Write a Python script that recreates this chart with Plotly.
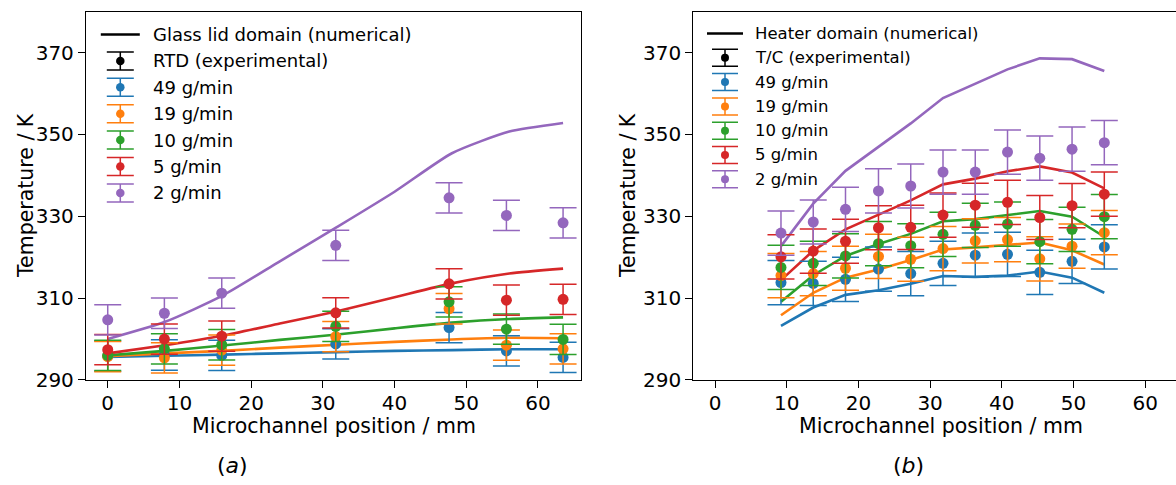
import plotly.graph_objects as go

# ---------------- data ----------------
series_names = ["49 g/min", "19 g/min", "10 g/min", "5 g/min", "2 g/min"]
series_colors = ["#1f77b4", "#ff7f0e", "#2ca02c", "#d62728", "#9467bd"]

# (a) Glass lid domain: numerical curves
lid_num_x = [0, 8, 16, 24, 32, 40, 48, 56, 63.5]
lid_num_49 = [295.6, 295.9, 296.2, 296.5, 296.8, 297.1, 297.3, 297.5, 297.5]
lid_num_19 = [295.8, 296.5, 297.1, 297.9, 298.6, 299.3, 299.9, 300.3, 300.2]
lid_num_10 = [296.0, 297.1, 298.4, 299.8, 301.1, 302.6, 304.0, 304.9, 305.3]
lid_num_5 = [296.5, 298.5, 300.8, 303.8, 306.8, 310.2, 313.6, 316.0, 317.2]
lid_num_2 = [300.0, 304.2, 310.6, 319.0, 327.4, 336.0, 345.4, 350.7, 352.8]

# (a) RTD experimental
rtd_x = [0, 7.9, 15.9, 31.8, 47.6, 55.6, 63.5]
rtd_49 = [295.8, 296.1, 296.0, 298.8, 302.8, 297.1, 295.5]
rtd_19 = [295.7, 295.4, 297.3, 300.6, 307.4, 298.5, 297.6]
rtd_10 = [296.0, 297.6, 298.6, 303.1, 309.1, 302.4, 299.9]
rtd_5 = [297.4, 300.0, 300.7, 306.4, 313.5, 309.5, 309.7]
rtd_2 = [304.7, 306.3, 311.2, 322.9, 334.5, 330.2, 328.4]
rtd_err = 3.7

# (b) Heater domain: numerical and T/C experimental share positions
tc_x = [9.2, 13.7, 18.2, 22.8, 27.3, 31.8, 36.3, 40.8, 45.3, 49.8, 54.3]
heat_num_49 = [303.2, 307.7, 310.8, 311.9, 313.5, 315.4, 315.2, 315.5, 316.5, 315.0, 311.3]
heat_num_19 = [305.8, 311.3, 315.0, 317.0, 319.3, 321.9, 322.4, 323.0, 323.6, 321.7, 318.2]
heat_num_10 = [309.1, 315.6, 320.3, 323.2, 325.7, 328.8, 329.3, 330.3, 331.3, 329.9, 325.0]
heat_num_5 = [314.4, 321.6, 326.8, 330.3, 333.9, 337.8, 339.2, 341.0, 342.2, 340.7, 336.8]
heat_num_2 = [322.7, 333.1, 341.1, 347.0, 352.7, 358.9, 362.4, 365.9, 368.6, 368.4, 365.5]

tc_49 = [313.8, 313.6, 314.6, 317.1, 316.0, 318.5, 320.5, 320.7, 316.3, 319.0, 322.5]
tc_19 = [315.5, 316.0, 317.3, 320.2, 319.5, 322.1, 324.0, 324.3, 319.6, 322.7, 326.0]
tc_10 = [317.5, 318.5, 320.3, 323.3, 322.8, 325.6, 327.8, 328.1, 323.8, 326.8, 329.9]
tc_5 = [320.1, 321.5, 323.9, 327.2, 327.3, 330.3, 332.7, 333.4, 329.7, 332.6, 335.4]
tc_2 = [325.9, 328.6, 331.7, 336.2, 337.4, 340.8, 340.8, 345.7, 344.2, 346.4, 348.0]
tc_err = 5.4

x_ticks = [0, 10, 20, 30, 40, 50, 60]
y_ticks = [290, 310, 330, 350, 370]

# ---------------- layout constants ----------------
W = 1176
SY = 0.976                 # vertical scale observed between page and photograph
H = round(485 / SY)
FONT = "DejaVu Sans"


def fx(p):
    return p / W


def fy(p):
    return 1 - (p / SY) / H


lid_num = [lid_num_49, lid_num_19, lid_num_10, lid_num_5, lid_num_2]
rtd = [rtd_49, rtd_19, rtd_10, rtd_5, rtd_2]
heat_num = [heat_num_49, heat_num_19, heat_num_10, heat_num_5, heat_num_2]
tc = [tc_49, tc_19, tc_10, tc_5, tc_2]

fig = go.Figure()

# numerical lines first
for vals, c in zip(lid_num, series_colors):
    fig.add_trace(go.Scatter(x=lid_num_x, y=vals, mode="lines", line=dict(color=c, width=2.6, shape="spline", smoothing=0.6),
                             showlegend=False, xaxis="x", yaxis="y", hoverinfo="skip"))
for vals, c in zip(heat_num, series_colors):
    fig.add_trace(go.Scatter(x=tc_x, y=vals, mode="lines", line=dict(color=c, width=2.6),
                             showlegend=False, xaxis="x2", yaxis="y2", hoverinfo="skip"))

# experimental points with error bars
for vals, c in zip(rtd, series_colors):
    fig.add_trace(go.Scatter(x=rtd_x, y=vals, mode="markers", marker=dict(color=c, size=11),
                             error_y=dict(type="constant", value=rtd_err, color=c, thickness=1.5, width=13.5),
                             showlegend=False, xaxis="x", yaxis="y"))
for vals, c in zip(tc, series_colors):
    fig.add_trace(go.Scatter(x=tc_x, y=vals, mode="markers", marker=dict(color=c, size=11),
                             error_y=dict(type="constant", value=tc_err, color=c, thickness=1.5, width=13.5),
                             showlegend=False, xaxis="x2", yaxis="y2"))

# ---------------- custom legends (pixel overlay axis) ----------------
annotations = []


def add_legend(x_handle, x_text, y0, dy, line_half, cap_half, err_half, msize, fsize, title_num, title_exp):
    fig.add_trace(go.Scatter(x=[x_handle - line_half, x_handle + line_half], y=[y0, y0], mode="lines",
                             line=dict(color="black", width=2.6), showlegend=False,
                             xaxis="x3", yaxis="y3", hoverinfo="skip", cliponaxis=False))
    labels = [title_exp] + series_names
    colors = ["black"] + series_colors
    for i, c in enumerate(colors):
        yy = y0 + dy * (i + 1)
        fig.add_trace(go.Scatter(x=[x_handle], y=[yy], mode="markers", marker=dict(color=c, size=msize),
                                 error_y=dict(type="constant", value=err_half, color=c, thickness=1.5, width=cap_half),
                                 showlegend=False, xaxis="x3", yaxis="y3", hoverinfo="skip", cliponaxis=False))
    for i, lab in enumerate([title_num] + labels):
        annotations.append(dict(x=fx(x_text), y=fy(y0 + dy * i), xref="paper", yref="paper", text=lab,
                                showarrow=False, xanchor="left", yanchor="middle", borderpad=0,
                                font=dict(family=FONT, size=fsize, color="black")))


add_legend(120.3, 152, 34.5, 26.4, 19.5, 13.5, 9.0, 8.5, 18,
           "Glass lid domain (numerical)", "RTD (experimental)")
add_legend(725, 754, 33.5, 24.3, 18.0, 13.0, 8.5, 8, 16.5,
           "Heater domain (numerical)", "T/C (experimental)")

# axis titles and panel labels
titles = [
    dict(x=fx(26), y=fy(196), text="Temperature / K", textangle=-90),
    dict(x=fx(628), y=fy(196), text="Temperature / K", textangle=-90),
    dict(x=fx(333.5), y=fy(426), text="Microchannel position / mm"),
    dict(x=fx(940.5), y=fy(426), text="Microchannel position / mm"),
]
for a in titles:
    a.update(xref="paper", yref="paper", showarrow=False, xanchor="center", yanchor="middle",
             font=dict(family=FONT, size=20.5, color="black"))
annotations += titles
annotations += [
    dict(x=fx(232), y=fy(466), text="(<i>a</i>)", xref="paper", yref="paper", showarrow=False,
         xanchor="center", yanchor="middle", font=dict(family=FONT, size=22, color="black")),
    dict(x=fx(908), y=fy(466), text="(<i>b</i>)", xref="paper", yref="paper", showarrow=False,
         xanchor="center", yanchor="middle", font=dict(family=FONT, size=22, color="black")),
]

ax_common = dict(showline=True, linecolor="black", linewidth=1.3, ticks="outside", ticklen=7,
                 tickwidth=1.3, tickcolor="black", showgrid=False, zeroline=False,
                 tickfont=dict(family=FONT, size=20, color="black"))
ydom = [fy(380), fy(11.7)]

fig.update_layout(
    width=W, height=H,
    margin=dict(l=0, r=0, t=0, b=0),
    paper_bgcolor="white", plot_bgcolor="rgba(0,0,0,0)",
    showlegend=False,
    annotations=annotations,
    xaxis=dict(domain=[fx(86), fx(581)], range=[-3.03, 66.0], anchor="y", tickvals=x_ticks, mirror=True,
               ticklabelstandoff=-2, **ax_common),
    yaxis=dict(domain=ydom, range=[290, 380], anchor="x", tickvals=y_ticks, mirror=True, **ax_common),
    xaxis2=dict(domain=[fx(693.3), 1.0], range=[-3.03, 64.3], anchor="y2", tickvals=x_ticks, mirror=True,
                ticklabelstandoff=-2, **ax_common),
    yaxis2=dict(domain=ydom, range=[290, 380], anchor="x2", tickvals=y_ticks, **ax_common),
    xaxis3=dict(domain=[0, 1], range=[0, W], anchor="y3", visible=False, fixedrange=True),
    yaxis3=dict(domain=[0, 1], range=[485, 0], anchor="x3", visible=False, fixedrange=True),
    font=dict(family=FONT, color="black"),
)

fig.write_html("out.html", config={"displayModeBar": False},
               post_script="document.body.style.margin='0px';document.body.style.overflow='hidden';")
